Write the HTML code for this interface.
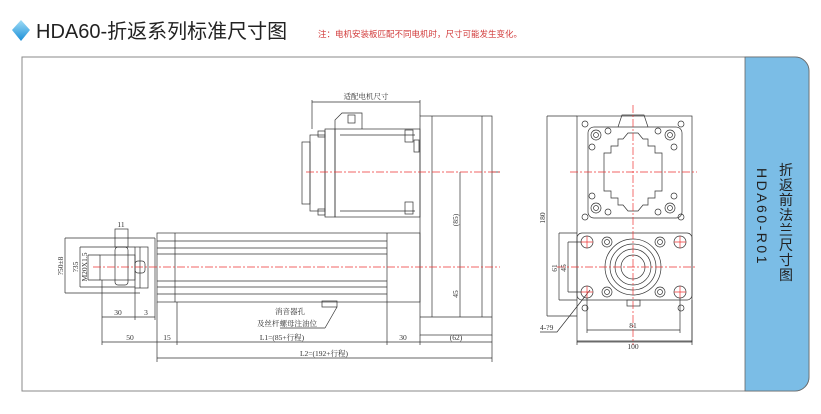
<!DOCTYPE html>
<html><head><meta charset="utf-8"><style>
body{margin:0;background:#fff;width:821px;height:409px;overflow:hidden;font-family:"Liberation Sans","Noto Sans CJK SC",sans-serif}
</style></head><body>
<svg width="821" height="409" viewBox="0 0 821 409" xmlns="http://www.w3.org/2000/svg">
<defs><linearGradient id="g" x1="0" y1="0" x2="0" y2="1"><stop offset="0" stop-color="#9fdcf6"/><stop offset="1" stop-color="#1a8fd8"/></linearGradient></defs>
<polygon points="21,20 30,30 21,41 12,30" fill="url(#g)"/>
<text x="36" y="38" font-size="20" fill="#222" font-family="Liberation Sans,Noto Sans CJK SC,sans-serif">HDA60-折返系列标准尺寸图</text>
<text x="318" y="37" font-size="8.5" fill="#d23b3b" font-family="Noto Sans CJK SC,sans-serif">注：电机安装板匹配不同电机时，尺寸可能发生变化。</text>
<!-- frame -->
<path d="M22,57 H795 A14,14 0 0 1 809,71 V377 A14,14 0 0 1 795,391 H22 Z" fill="#fff" stroke="#888" stroke-width="1"/>
<path d="M745,57 H795 A14,14 0 0 1 809,71 V377 A14,14 0 0 1 795,391 H745 Z" fill="#7bbde6" stroke="#666" stroke-width="0.8"/>
<text font-size="14" fill="#222" font-family="Noto Sans CJK SC,sans-serif"><tspan x="779" y="175">折</tspan><tspan x="779" y="190">返</tspan><tspan x="779" y="205">前</tspan><tspan x="779" y="220">法</tspan><tspan x="779" y="235">兰</tspan><tspan x="779" y="250">尺</tspan><tspan x="779" y="265">寸</tspan><tspan x="779" y="280">图</tspan></text>
<text transform="translate(757,168) rotate(90)" font-size="14" fill="#222" letter-spacing="2.5">HDA60-R01</text>

<g fill="none" stroke="#333" stroke-width="0.7">
<!-- motor -->
<rect x="335" y="129" width="85" height="88"/>
<line x1="340" y1="135" x2="415" y2="135"/><line x1="340" y1="211" x2="415" y2="211"/>
<rect x="325" y="129" width="10" height="88"/>
<rect x="310" y="135" width="15" height="76"/>
<rect x="302" y="142" width="8" height="62"/>
<rect x="318" y="131" width="7" height="6"/><rect x="318" y="209" width="7" height="6"/>
<rect x="405" y="130" width="8" height="12"/><rect x="405" y="202" width="8" height="12"/>
<rect x="414" y="140" width="5" height="12"/>
<path d="M335,129 V120 L342,113 H362 V129"/><rect x="348" y="115" width="7" height="8"/>
<!-- gearbox -->
<rect x="420" y="116" width="72" height="219"/>
<line x1="432" y1="116" x2="432" y2="317"/><line x1="482" y1="116" x2="482" y2="317"/>
<line x1="420" y1="317" x2="492" y2="317"/>
<!-- actuator -->
<rect x="157" y="233" width="263" height="69"/>
<line x1="175" y1="233" x2="175" y2="302"/><line x1="387" y1="233" x2="387" y2="302"/>
<line x1="157" y1="241" x2="387" y2="241"/><line x1="157" y1="248" x2="387" y2="248"/><line x1="157" y1="254" x2="387" y2="254"/>
<line x1="157" y1="281" x2="387" y2="281"/><line x1="157" y1="287" x2="387" y2="287"/><line x1="157" y1="294" x2="387" y2="294"/>
<line x1="155" y1="238" x2="155" y2="302"/>
<rect x="322" y="301" width="15" height="6"/>
<!-- rod end -->
<rect x="135" y="247" width="13" height="41"/><line x1="140" y1="247" x2="140" y2="288"/>
<rect x="100" y="255" width="35" height="25"/>
<rect x="115" y="247" width="13" height="38" rx="3"/>
<rect x="115" y="229" width="13" height="18"/>
<rect x="135" y="261" width="10" height="12" rx="3"/>
<path d="M65,238 H155 M65,293 H140 M80,247 H135 M80,287 H135 M88,255 H100 M88,280 H100"/>
<path d="M65,238 V293 M80,247 V287 M88,255 V280"/>
<!-- dims left -->
<path d="M102,280 V345 M135,288 V320 M155,302 V320 M157,302 V362 M177,302 V345 M387,302 V345 M420,335 V345 M492,335 V362"/>
<path d="M102,317 H155 M102,342 H492 M157,358 H492 M312,100 V129 M420,100 V116 M312,102 H420 M460,172 V317 M492,172 H500"/>
<path d="M337,307 L325,328 M280,328 H325"/>
<!-- right view upper -->
<rect x="577" y="116" width="115" height="226"/>
<rect x="588" y="127" width="94" height="91" rx="6"/>
<path d="M618,127 L622,115 H644 L648,127"/>
<path d="M628,133 H638 L643,139 H648 V146 H655 V153 H662 V191 H655 V198 H648 V205 H643 L638,211 H628 L623,205 H618 V198 H611 V191 H604 V153 H611 V146 H618 V139 H623 Z"/>
<circle cx="585" cy="124" r="3"/><circle cx="681" cy="124" r="3"/><circle cx="585" cy="217" r="3"/><circle cx="681" cy="217" r="3"/>
<circle cx="596" cy="135" r="5"/><circle cx="596" cy="135" r="2.5"/><circle cx="670" cy="135" r="5"/><circle cx="670" cy="135" r="2.5"/>
<circle cx="596" cy="208" r="5"/><circle cx="596" cy="208" r="2.5"/><circle cx="670" cy="208" r="5"/><circle cx="670" cy="208" r="2.5"/>
<circle cx="608" cy="131" r="3"/><circle cx="658" cy="131" r="3"/><circle cx="608" cy="212" r="3"/><circle cx="658" cy="212" r="3"/>
<circle cx="592" cy="147" r="3"/><circle cx="674" cy="147" r="3"/><circle cx="592" cy="196" r="3"/><circle cx="674" cy="196" r="3"/>
<!-- lower flange -->
<rect x="577" y="233" width="115" height="67" rx="5"/>
<circle cx="633" cy="267" r="28"/><circle cx="633" cy="267" r="23"/><circle cx="633" cy="267" r="18"/><circle cx="633" cy="267" r="12"/>
<circle cx="587" cy="242" r="6"/><circle cx="680" cy="242" r="6"/><circle cx="587" cy="292" r="6"/><circle cx="680" cy="292" r="6"/>
<circle cx="607" cy="242" r="5"/><circle cx="607" cy="242" r="2.5"/><circle cx="660" cy="242" r="5"/><circle cx="660" cy="242" r="2.5"/>
<circle cx="607" cy="292" r="5"/><circle cx="607" cy="292" r="2.5"/><circle cx="660" cy="292" r="5"/><circle cx="660" cy="292" r="2.5"/>
<circle cx="585" cy="308" r="3"/><circle cx="681" cy="308" r="3"/>
<rect x="627" y="300" width="13" height="6"/>
<!-- right dims -->
<path d="M547,116 H577 M547,116 V316 M547,316 H577 M559,233 H577 M559,233 V300 M559,300 H577 M568,242 H582 M568,242 V292 M568,292 H582"/>
<path d="M587,298 V333 M680,298 V333 M587,330 H680 M577,342 V345 M692,300 V345 M577,341 H692"/>
<path d="M540,332 H557 L590,290"/>
</g>
<g fill="none" stroke="#e33" stroke-width="0.7" stroke-dasharray="8,2,2,2">
<line x1="306" y1="172" x2="500" y2="172"/><line x1="93" y1="267" x2="500" y2="267"/>
<line x1="633" y1="105" x2="633" y2="345"/><line x1="570" y1="172" x2="697" y2="172"/><line x1="557" y1="267" x2="697" y2="267"/>
<path d="M581,242 H593 M587,236 V248 M674,242 H686 M680,236 V248 M581,292 H593 M587,286 V298 M674,292 H686 M680,286 V298" stroke-dasharray="none"/>
</g>
<g font-family="Liberation Serif,Noto Serif CJK SC,serif" font-size="7.5" fill="#333">
<text x="366" y="99" text-anchor="middle">适配电机尺寸</text>
<text x="121" y="227" text-anchor="middle">11</text>
<text x="118" y="315" text-anchor="middle">30</text>
<text x="146" y="315" text-anchor="middle">3</text>
<text x="130" y="340" text-anchor="middle">50</text>
<text x="167" y="340" text-anchor="middle">15</text>
<text x="282" y="340" text-anchor="middle">L1=(85+行程)</text>
<text x="403" y="340" text-anchor="middle">30</text>
<text x="456" y="340" text-anchor="middle">(62)</text>
<text x="324" y="356" text-anchor="middle">L2=(192+行程)</text>
<text x="290" y="314" text-anchor="middle">消音器孔</text>
<text x="287" y="326" text-anchor="middle">及丝杆螺母注油位</text>
<text transform="translate(63,266) rotate(-90)" text-anchor="middle">?50±8</text>
<text transform="translate(78,267) rotate(-90)" text-anchor="middle">?35</text>
<text transform="translate(87,267) rotate(-90)" text-anchor="middle">M20X1.5</text>
<text transform="translate(458,220) rotate(-90)" text-anchor="middle">(85)</text>
<text transform="translate(458,294) rotate(-90)" text-anchor="middle">45</text>
<text transform="translate(545,218) rotate(-90)" text-anchor="middle">180</text>
<text transform="translate(557,268) rotate(-90)" text-anchor="middle">61</text>
<text transform="translate(566,268) rotate(-90)" text-anchor="middle">45</text>
<text x="633" y="328" text-anchor="middle">81</text>
<text x="633" y="349" text-anchor="middle">100</text>
<text x="540" y="330">4-?9</text>
</g>
</svg>
</body></html>
